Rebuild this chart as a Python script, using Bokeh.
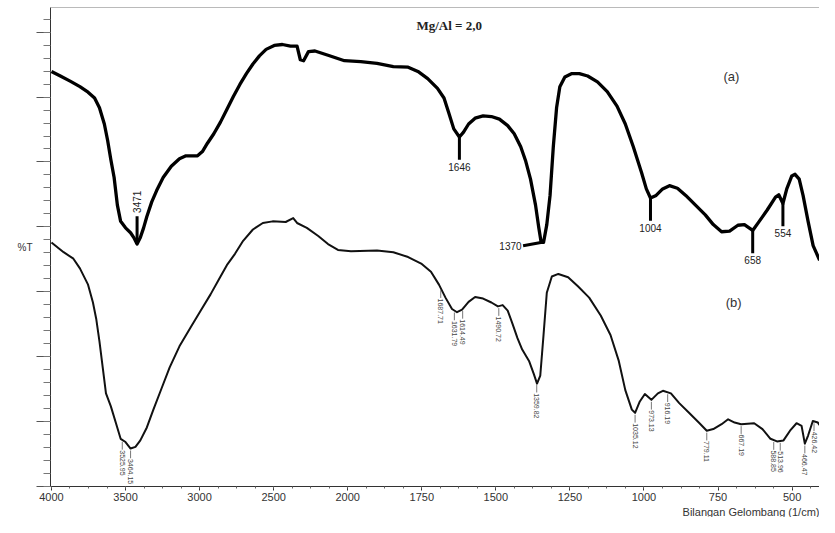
import numpy as np
from bokeh.plotting import figure
from bokeh.models import Range1d, FixedTicker, Label, Span, Title
from bokeh.embed import file_html
from bokeh.resources import INLINE

# ---------------- data (wavenumber in 1/cm, transmittance in arbitrary %T) ----
wn_a = [4000, 3940, 3874, 3808, 3753, 3709, 3676, 3643, 3621, 3599, 3577, 3555, 3533, 3500, 3466, 3444,
        3422, 3400, 3378, 3356, 3323, 3290, 3246, 3191, 3136, 3092, 3014, 2981, 2948, 2904, 2860, 2816,
        2772, 2728, 2684, 2640, 2596, 2551, 2496, 2441, 2386, 2342, 2320, 2298, 2265, 2221, 2133, 2022,
        1956, 1901, 1846, 1796, 1763, 1730, 1697, 1675, 1659, 1642, 1623, 1609, 1592, 1570, 1543, 1515,
        1488, 1460, 1438, 1416, 1399, 1383, 1366, 1355, 1347, 1339, 1328, 1317, 1306, 1295, 1284, 1267,
        1245, 1218, 1190, 1157, 1124, 1091, 1063, 1036, 1008, 992, 978, 959, 937, 914, 887, 859, 826,
        793, 766, 738, 711, 683, 661, 633, 611, 584, 556, 545, 531, 518, 501, 490, 476, 463, 446, 429, 407]
t_a = [63.95, 63.25, 62.45, 61.6, 60.75, 59.85, 58.35, 55.85, 53.35, 50.35, 47.6, 43.35, 40.85, 39.85,
       39.1, 38.35, 37.35, 38.35, 39.85, 41.6, 43.85, 45.6, 47.6, 49.35, 50.5, 50.95, 50.95, 51.6, 52.85,
       54.35, 56.1, 58.1, 60.1, 61.95, 63.6, 65.1, 66.35, 67.35, 67.95, 68.1, 67.85, 67.85, 65.75, 65.6,
       67.0, 67.1, 66.45, 65.6, 65.45, 65.2, 64.7, 64.6, 63.95, 62.85, 61.35, 59.85, 57.6, 55.1, 53.85,
       54.6, 55.85, 56.75, 57.1, 57.0, 56.6, 55.6, 54.35, 52.35, 50.1, 47.35, 43.35, 39.85, 37.6, 37.6,
       40.35, 44.85, 52.35, 58.35, 61.6, 63.1, 63.6, 63.6, 63.25, 62.35, 60.85, 58.6, 55.85, 52.35,
       48.35, 45.85, 44.45, 44.85, 45.85, 46.35, 45.95, 44.85, 43.35, 41.85, 40.35, 39.25, 39.35, 40.25,
       40.35, 39.45, 40.85, 42.6, 44.6, 44.95, 43.6, 45.85, 47.85, 48.1, 47.35, 44.85, 40.85, 37.1, 34.85]

wn_b = [4000, 3918, 3852, 3808, 3753, 3720, 3698, 3676, 3654, 3632, 3599, 3566, 3533, 3500, 3466, 3433,
        3400, 3356, 3312, 3257, 3202, 3136, 3058, 2992, 2926, 2871, 2816, 2761, 2706, 2640, 2573, 2507,
        2419, 2368, 2342, 2276, 2199, 2133, 2066, 1989, 1901, 1846, 1796, 1752, 1719, 1692, 1670, 1648,
        1631, 1614, 1592, 1570, 1543, 1515, 1493, 1477, 1460, 1444, 1427, 1411, 1388, 1372, 1361, 1350,
        1339, 1328, 1311, 1289, 1256, 1223, 1185, 1146, 1113, 1085, 1063, 1041, 1030, 1014, 997, 975,
        953, 936, 909, 881, 848, 815, 788, 766, 738, 716, 694, 672, 628, 600, 573, 551, 529, 507, 485,
        468, 457, 446, 430, 413, 407]
t_b = [37.6, 36.1, 35.1, 33.6, 31.1, 28.35, 25.85, 22.35, 18.35, 14.35, 12.35, 9.85, 7.35, 6.85, 5.85,
       6.1, 7.1, 9.1, 11.85, 15.1, 18.35, 21.6, 24.6, 27.1, 29.6, 31.85, 34.1, 35.85, 37.85, 39.6, 40.6,
       40.85, 40.75, 41.35, 40.6, 39.85, 38.6, 37.35, 36.45, 36.25, 36.35, 36.1, 35.35, 34.35, 33.1,
       31.1, 29.1, 27.35, 26.85, 27.25, 28.45, 29.2, 28.95, 28.35, 27.75, 27.95, 27.1, 25.1, 22.85, 21.1,
       19.35, 17.35, 15.85, 17.1, 23.35, 29.85, 32.35, 32.75, 32.25, 30.85, 29.1, 26.35, 23.35, 19.35,
       14.85, 11.85, 11.35, 13.1, 14.25, 13.35, 14.35, 14.75, 14.35, 12.85, 11.35, 9.85, 8.6, 8.85, 9.6,
       10.35, 9.85, 9.6, 9.75, 8.85, 7.35, 6.95, 7.1, 8.6, 9.75, 9.35, 6.6, 7.85, 10.1, 9.85, 9.45]

tick_wn = [4000, 3500, 3000, 2500, 2000, 1750, 1500, 1250, 1000, 750, 500]

peak_a_wn = [3422, 1623, 1343, 978, 633, 531]
peak_a_lbl = ["3471", "1646", "1370", "1004", "658", "554"]

peak_b_wn = [3522, 3466, 1686, 1640, 1612, 1490, 1362, 1030, 975, 920, 788, 672, 562, 540, 457, 426]
peak_b_lbl = ["3525.95", "3464.15", "1687.71", "1631.79", "1614.49", "1490.72", "1359.82", "1035.12",
              "973.13", "916.19", "779.11", "667.19", "588.85", "513.96", "466.47", "426.42"]


# piecewise wavenumber scale of the instrument (4000-2000 compressed 2x)
def xpos(wn):
    wn = np.asarray(wn, dtype=float)
    return np.where(wn >= 2000, (4000.0 - wn) / 500.0, 4.0 + (2000.0 - wn) / 250.0)


FONT = "Liberation Sans"

p = figure(width=819, height=517, x_range=Range1d(-0.013, 10.37), y_range=Range1d(0, 73.8),
           output_backend="svg", toolbar_location=None,
           min_border_left=50, min_border_right=0, min_border_top=7, min_border_bottom=0)
p.grid.visible = False
p.outline_line_color = None
p.background_fill_color = "white"
p.border_fill_color = "white"

# x axis
xt = [float(v) for v in xpos(tick_wn)]
minor = [i * 0.25 for i in range(0, 42)]
p.xaxis.ticker = FixedTicker(ticks=xt, minor_ticks=minor)
p.xaxis.major_label_overrides = {int(round(k)): str(w) for k, w in zip(xt, tick_wn)}
p.xaxis.axis_line_color = "#333333"
p.xaxis.major_tick_line_color = "#333333"
p.xaxis.minor_tick_line_color = "#666666"
p.xaxis.major_tick_out = 4
p.xaxis.major_tick_in = 0
p.xaxis.minor_tick_out = 2
p.xaxis.minor_tick_in = 0
p.xaxis.major_label_standoff = 2
p.xaxis.major_label_text_font = FONT
p.xaxis.major_label_text_font_size = "11px"
p.xaxis.major_label_text_color = "#333333"

# x axis title, right-aligned under the axis
p.add_layout(Title(text="Bilangan Gelombang (1/cm)", align="right", standoff=0, offset=0,
                   text_font=FONT, text_font_style="normal", text_font_size="11px",
                   text_color="#333333"), "below")

# y axis (no numbers)
yt = [0, 10, 20, 30, 40, 50, 60, 70]
p.yaxis.ticker = FixedTicker(ticks=yt, minor_ticks=[i * 2 for i in range(0, 37)])
p.yaxis.major_label_overrides = {t: "" for t in yt}
p.yaxis.major_label_standoff = 0
p.yaxis.axis_line_color = "#333333"
p.yaxis.major_tick_line_color = "#555555"
p.yaxis.minor_tick_line_color = "#777777"
p.yaxis.major_tick_out = 14
p.yaxis.major_tick_in = 0
p.yaxis.minor_tick_out = 7
p.yaxis.minor_tick_in = 0
p.yaxis.axis_label = "%T"
p.yaxis.axis_label_orientation = "horizontal"
p.yaxis.axis_label_standoff = 4
p.yaxis.axis_label_text_font = FONT
p.yaxis.axis_label_text_font_style = "normal"
p.yaxis.axis_label_text_font_size = "10px"
p.yaxis.axis_label_text_color = "#333333"

p.add_layout(Span(location=73.8, dimension="width", line_color="#777777", line_width=1))

# spectra
p.line(xpos(wn_a), t_a, line_width=3.3, line_color="black", line_join="round")
p.line(xpos(wn_b), t_b, line_width=2.0, line_color="#111111", line_join="round")

xa = xpos(wn_a)
xb = xpos(wn_b)

# peak markers for (a)
mode_a = ["up", "down", "left", "down", "down", "down"]
for w, lbl, mode in zip(peak_a_wn, peak_a_lbl, mode_a):
    x = float(xpos([w])[0])
    y = float(np.interp(x, xa, t_a))
    if mode == "up":
        p.segment(x0=[x], y0=[y], x1=[x], y1=[y + 4.3], line_width=3, line_color="black")
        p.add_layout(Label(x=x, y=y + 4.8, text=lbl, angle=np.pi / 2, text_align="left",
                           text_baseline="middle", text_font=FONT,
                           text_font_size="10px", text_color="#222222"))
    elif mode == "down":
        p.segment(x0=[x], y0=[y], x1=[x], y1=[y - 3.5], line_width=3, line_color="black")
        p.add_layout(Label(x=x, y=y - 4.0, text=lbl, text_align="center", text_baseline="top",
                           text_font=FONT, text_font_size="10px", text_color="#222222"))
    else:
        p.segment(x0=[x - 0.02], y0=[y], x1=[x - 0.26], y1=[y - 0.5], line_width=3, line_color="black")
        p.add_layout(Label(x=x - 0.28, y=y - 0.6, text=lbl, text_align="right", text_baseline="middle",
                           text_font=FONT, text_font_size="10px", text_color="#222222"))

# peak labels for (b)
for w, lbl in zip(peak_b_wn, peak_b_lbl):
    x = float(xpos([w])[0])
    y = float(np.interp(x, xb, t_b))
    p.segment(x0=[x], y0=[y - 0.3], x1=[x], y1=[y - 1.5], line_width=0.8, line_color="#555555")
    p.add_layout(Label(x=x, y=y - 1.6, text=lbl, angle=-np.pi / 2, text_align="left",
                       text_baseline="middle", text_font=FONT,
                       text_font_size="7px", text_color="#444444"))

# texts inside the frame
p.add_layout(Label(x=5.37, y=71.1, text="Mg/Al = 2,0", text_align="center", text_baseline="middle",
                   text_font="Liberation Serif", text_font_style="bold", text_font_size="13px",
                   text_color="#222222"))
p.add_layout(Label(x=9.18, y=63.2, text="(a)", text_align="center", text_baseline="middle",
                   text_font=FONT, text_font_size="13px", text_color="#333333"))
p.add_layout(Label(x=9.21, y=28.4, text="(b)", text_align="center", text_baseline="middle",
                   text_font=FONT, text_font_size="13px", text_color="#333333"))

open("out.html", "w").write(file_html(p, INLINE))
